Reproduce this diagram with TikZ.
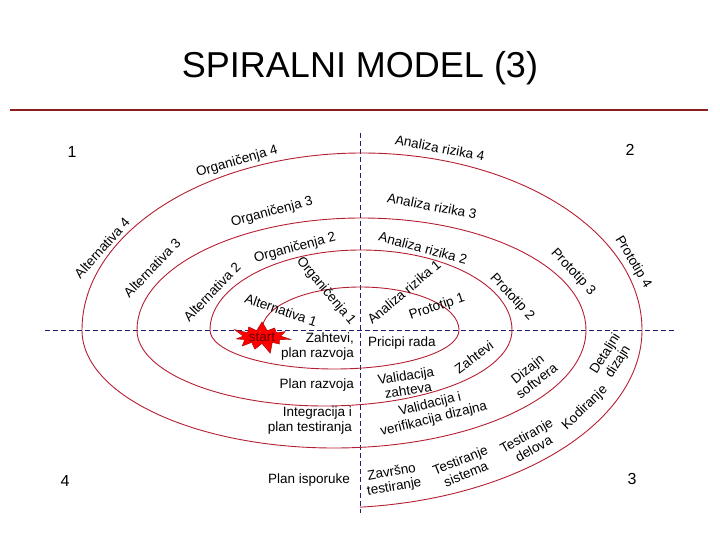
\documentclass[tikz,border=0pt]{standalone}
\usepackage{fontspec}
\setmainfont{Liberation Sans}
\usetikzlibrary{shapes.symbols}
\definecolor{spiralred}{RGB}{180,30,50}
\definecolor{rulered}{RGB}{140,30,30}
\definecolor{axisblue}{RGB}{30,30,120}

\begin{document}
\begin{tikzpicture}[x=1pt, y=-1pt,
  every node/.style={font=\fontsize{13.5}{15}\selectfont, inner sep=1pt},
  lbl/.style={align=center},
  lft/.style={anchor=east, align=right},
  quad/.style={font=\fontsize{16}{18}\selectfont},
  sp/.style={draw=spiralred, line width=0.9pt},
  ax/.style={draw=axisblue, line width=0.7pt, dash pattern=on 5pt off 3pt},
  st/.style={starburst, starburst points=11, starburst point height=12pt,
             fill=red, draw=red!60!black, minimum width=62pt, minimum height=37pt,
             inner sep=0pt, text=red!40!black}]
\useasboundingbox (0,0) rectangle (720,540);

%% --- Title ---
\node (TTL) at (360,68) {\fontsize{36}{40}\selectfont SPIRALNI MODEL (3)};
\draw[draw=rulered, line width=1.2pt] (10,110) -- (708,110);

%% --- Axes ---
\draw[ax] (45,330) -- (675,330);
\draw[ax] (360,133) -- (360,513);

%% --- Spiral ---
\draw[sp] (262,330)
  arc[start angle=180, end angle=360, x radius=98.5,  y radius=43]
  arc[start angle=0,   end angle=180, x radius=124.5, y radius=39]
  arc[start angle=180, end angle=360, x radius=151,   y radius=80]
  arc[start angle=0,   end angle=180, x radius=187.5, y radius=76]
  arc[start angle=180, end angle=360, x radius=224.5, y radius=112]
  arc[start angle=0,   end angle=180, x radius=252,   y radius=118]
  arc[start angle=180, end angle=360, x radius=280,   y radius=177]
  arc[start angle=0,   end angle=84.5,x radius=312,   y radius=178];

%% --- Quadrant numbers ---
\node[quad] (Q1) at (72,152)  {1};
\node[quad] (Q2) at (630,150) {2};
\node[quad] (Q3) at (632,479) {3};
\node[quad] (Q4) at (65,481)  {4};

%% --- Quadrant 1 ---
\node[rotate=16]  (ORG4) at (237,162) {Organičenja 4};
\node[rotate=48]  (ALT4) at (102,248) {Alternativa 4};
\node[rotate=15]  (ORG3) at (272,212) {Organičenja 3};
\node[rotate=46]  (ALT3) at (152,268) {Alternativa 3};
\node[rotate=15]  (ORG2) at (295,248) {Organičenja 2};
\node[rotate=46]  (ALT2) at (212,292) {Alternativa 2};
\node[rotate=-50] (ORG1) at (326,291) {Organičenja 1};
\node[rotate=-19] (ALT1) at (281,310) {Alternativa 1};

%% --- Quadrant 2 ---
\node[rotate=-11] (ANR4) at (440,148) {Analiza rizika 4};
\node[rotate=-11] (ANR3) at (432,206) {Analiza rizika 3};
\node[rotate=-15] (ANR2) at (423,248) {Analiza rizika 2};
\node[rotate=40]  (ANR1) at (404,292) {Analiza rizika 1};
\node[rotate=19]  (PRT1) at (437,307) {Prototip 1};
\node[rotate=-47] (PRT2) at (512,297) {Prototip 2};
\node[rotate=-47] (PRT3) at (573,272) {Prototip 3};
\node[rotate=-59] (PRT4) at (633,262) {Prototip 4};

%% --- Quadrant 3 ---
\node (PRA) at (402,343) {Pricipi rada};
\node[rotate=37]         (ZAH) at (474,357) {Zahtevi};
\node[lbl, rotate=9]     (VZA) at (407,383) {Validacija\\zahteva};
\node[lbl, rotate=14]    (VVD) at (432,412) {Validacija i\\verifikacija dizajna};
\node[lbl, rotate=38]    (DSW) at (532,375) {Dizajn\\softvera};
\node[lbl, rotate=58]    (DDZ) at (612,358) {Detaljni\\dizajn};
\node[rotate=44]         (KOD) at (585,408) {Kodiranje};
\node[lbl, rotate=29]    (TDE) at (530,442) {Testiranje\\delova};
\node[lbl, rotate=22]    (TSI) at (463,467) {Testiranje\\sistema};
\node[lbl, rotate=10]    (ZTE) at (393,480) {Završno\\testiranje};

%% --- Quadrant 4 ---
\node[lft] (ZPR) at (355,347) {Zahtevi,\\plan razvoja};
\node[lft] (PRZ) at (355,385) {Plan razvoja};
\node[lft] (IPT) at (353,421) {Integracija i\\plan testiranja};
\node[lft] (PIS) at (351,480) {Plan isporuke};

%% --- Start ---
\node[st] (STR) at (262,337) {start};
\end{tikzpicture}
\end{document}
